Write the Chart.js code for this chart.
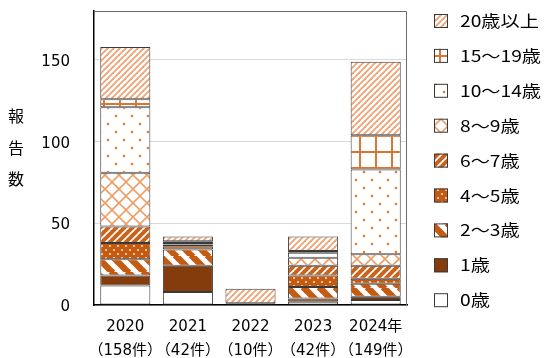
<!DOCTYPE html>
<html>
<head>
<meta charset="utf-8">
<script src="https://cdn.jsdelivr.net/npm/chart.js@4.4.1/dist/chart.umd.min.js"></script>
<style>
  html, body { margin: 0; padding: 0; background: #fff; }
</style>
</head>
<body>
<canvas id="chart" width="547" height="358"></canvas>
<script>
const years = ['2020', '2021', '2022', '2023', '2024年'];
const totals = ['（158件）', '（42件）', '（10件）', '（42件）', '（149件）'];
const ageGroups = ['0歳', '1歳', '2～3歳', '4～5歳', '6～7歳', '8～9歳', '10～14歳', '15～19歳', '20歳以上'];

// reports per age group, one value per year
const age0 = [12, 8, 0, 2, 3];
const age1 = [6, 16, 1, 2, 2];
const age2to3 = [10, 10, 0, 7, 8];
const age4to5 = [10, 2, 0, 7, 3];
const age6to7 = [10, 1, 0, 6, 8];
const age8to9 = [33, 1, 0, 5, 7];
const age10to14 = [40, 1, 0, 3, 52];
const age15to19 = [5, 0, 0, 1, 21];
const age20up = [32, 3, 9, 9, 45];

const yTicks = [0, 50, 100, 150];
const yTitleChars = ['報', '告', '数'];

const CJK = '"Noto Sans CJK JP", "Noto Sans", sans-serif';
const NUM = '"DejaVu Sans", "Noto Sans CJK JP", sans-serif';
const canvas = document.getElementById('chart');
const ctx = canvas.getContext('2d');

function tile(w, h, paint) {
  const c = document.createElement('canvas');
  c.width = w;
  c.height = h;
  const g = c.getContext('2d');
  g.fillStyle = '#fff';
  g.fillRect(0, 0, w, h);
  paint(g, w, h);
  return ctx.createPattern(c, 'repeat');
}

function stripes(g, w, h, dir, color, width) {
  g.strokeStyle = color;
  g.lineWidth = width;
  for (let k = -1; k <= 1; k++) {
    g.beginPath();
    if (dir === 'down') {
      g.moveTo(k * w - 1, -1);
      g.lineTo(k * w + w + 1, h + 1);
    } else {
      g.moveTo(k * w - 1, h + 1);
      g.lineTo(k * w + w + 1, -1);
    }
    g.stroke();
  }
}

function dots(g, pts, color, r) {
  g.fillStyle = color;
  pts.forEach(([x, y]) => {
    g.beginPath();
    g.arc(x, y, r, 0, Math.PI * 2);
    g.fill();
  });
}

const fills = [
  '#ffffff',
  '#843C0C',
  tile(16, 16, (g, w, h) => stripes(g, w, h, 'down', '#C55A11', 6.5)),
  tile(8, 8, (g) => {
    g.fillStyle = '#C55A11';
    g.fillRect(0, 0, 8, 8);
    dots(g, [[2, 2], [6, 6]], '#F8D9C3', 1.1);
  }),
  tile(8, 8, (g, w, h) => stripes(g, w, h, 'up', '#C9631C', 4)),
  tile(14, 14, (g, w, h) => {
    stripes(g, w, h, 'up', '#EE9E66', 1.6);
    stripes(g, w, h, 'down', '#EE9E66', 1.6);
  }),
  tile(16, 16, (g) => dots(g, [[4, 4], [12, 12]], '#E07B3C', 1.3)),
  tile(16, 16, (g) => {
    g.fillStyle = '#DA7634';
    g.fillRect(7, 0, 2, 16);
    g.fillRect(0, 7, 16, 2);
  }),
  tile(6, 6, (g, w, h) => stripes(g, w, h, 'up', '#F0A272', 1.8))
];

const seriesValues = [age0, age1, age2to3, age4to5, age6to7, age8to9, age10to14, age15to19, age20up];

const datasets = ageGroups.map((name, i) => ({
  label: name,
  data: seriesValues[i],
  backgroundColor: fills[i],
  borderColor: '#3a3a3a',
  borderWidth: 1,
  borderSkipped: false,
  categoryPercentage: 1.0,
  barPercentage: 0.8
}));

const frameAndText = {
  id: 'frameAndText',
  beforeDatasetsDraw(chart) {
    const { ctx, chartArea: a } = chart;
    ctx.save();
    ctx.strokeStyle = '#6b6b6b';
    ctx.lineWidth = 1;
    ctx.beginPath();
    ctx.moveTo(a.left, a.top + 0.5);
    ctx.lineTo(a.right - 0.5, a.top + 0.5);
    ctx.lineTo(a.right - 0.5, a.bottom);
    ctx.stroke();
    ctx.restore();
  },
  afterDraw(chart) {
    const { ctx } = chart;
    ctx.save();
    ctx.fillStyle = '#000';
    ctx.font = '16px ' + CJK;
    ctx.textAlign = 'center';
    ctx.textBaseline = 'middle';
    yTitleChars.forEach((ch, i) => ctx.fillText(ch, 16, 116 + i * 31.5));

    // legend, top item = last dataset; text is a bit wide in the original
    ctx.textAlign = 'left';
    for (let i = 0; i < ageGroups.length; i++) {
      const idx = ageGroups.length - 1 - i;
      const cy = 21 + i * 34.9;
      ctx.fillStyle = fills[idx];
      ctx.fillRect(434, cy - 7, 14, 14);
      ctx.strokeStyle = '#3a3a3a';
      ctx.lineWidth = 1;
      ctx.strokeRect(434.5, cy - 6.5, 13, 13);
      ctx.fillStyle = '#000';
      ctx.save();
      ctx.translate(460, cy);
      ctx.scale(1.2, 1);
      ctx.fillText(ageGroups[idx], 0, 0);
      ctx.restore();
    }
    ctx.restore();
  }
};

new Chart(ctx, {
  type: 'bar',
  data: {
    labels: years.map((y, i) => [y, totals[i]]),
    datasets: datasets
  },
  options: {
    responsive: false,
    animation: false,
    layout: { padding: { left: 0, right: 140, top: 11, bottom: 0 } },
    plugins: {
      legend: { display: false },
      tooltip: { enabled: false }
    },
    scales: {
      x: {
        stacked: true,
        grid: { display: false, drawTicks: false },
        border: { display: true, color: '#000', width: 1.5 },
        ticks: {
          color: '#000',
          font: { family: NUM, size: 15, lineHeight: 1.6 },
          padding: 10,
          autoSkip: false,
          maxRotation: 0,
          minRotation: 0
        },
        afterFit(scale) {
          scale.height = 53;
          scale.paddingLeft = 0;
          scale.paddingRight = 0;
        }
      },
      y: {
        stacked: true,
        min: 0,
        max: 180,
        ticks: {
          stepSize: 50,
          color: '#000',
          font: { family: NUM, size: 15 },
          padding: 24,
          labelOffset: 2
        },
        grid: { color: '#D9D9D9', drawTicks: false },
        border: { display: true, color: '#000', width: 1.5 },
        afterBuildTicks(scale) {
          scale.ticks = yTicks.map(v => ({ value: v }));
        },
        afterFit(scale) {
          scale.width = 94;
          scale.paddingTop = 0;
          scale.paddingBottom = 0;
        }
      }
    }
  },
  plugins: [frameAndText]
});
</script>
</body>
</html>
